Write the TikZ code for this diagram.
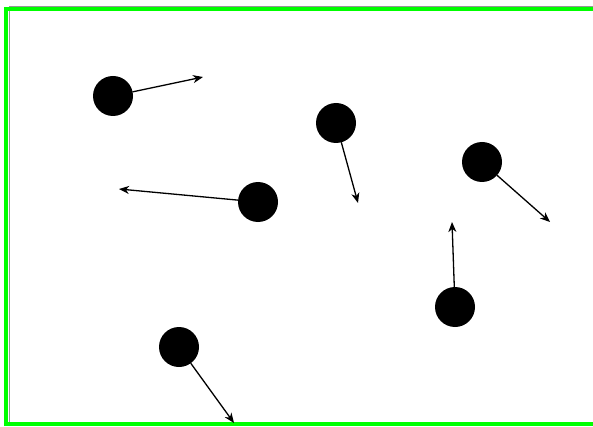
\documentclass[tikz,border=0pt]{standalone}
\usetikzlibrary{arrows.meta}
\definecolor{frameg}{RGB}{0,255,0}
\definecolor{frameGray}{RGB}{150,150,150}
\tikzset{
  disk/.style={circle,fill=black,minimum size=40pt,inner sep=0pt,outer sep=0pt},
  vel/.style={line width=1.3pt,-{Stealth[length=10pt,width=8pt,inset=3pt]}},
  frameline/.style={frameg,line width=4pt},
  grayline/.style={frameGray,line width=1pt}
}
\begin{document}
\begin{tikzpicture}[x=1pt,y=1pt]
\useasboundingbox (0,0) rectangle (593,426);
% frame
\draw[grayline] (9,0) -- (9,419.5) -- (593,419.5);
\draw[frameline] (6,0) -- (6,416.5);
\draw[frameline] (4,416.5) -- (593,416.5);
\draw[frameline] (4,1.8) -- (593,1.8);
% disks
\node[disk] (d1) at (113,330) {};
\node[disk] (d2) at (336,303) {};
\node[disk] (d3) at (258,224) {};
\node[disk] (d4) at (482,264) {};
\node[disk] (d5) at (455,119) {};
\node[disk] (d6) at (179,79) {};
% arrow ends
\coordinate (e1) at (203,349);
\coordinate (e2) at (358,223);
\coordinate (e3) at (119,237);
\coordinate (e4) at (550,204);
\coordinate (e5) at (452,204);
\coordinate (e6) at (234,3);
% velocity arrows
\draw[vel] (d1) -- (e1);
\draw[vel] (d2) -- (e2);
\draw[vel] (d3) -- (e3);
\draw[vel] (d4) -- (e4);
\draw[vel] (d5) -- (e5);
\draw[vel] (d6) -- (e6);
\end{tikzpicture}
\end{document}
